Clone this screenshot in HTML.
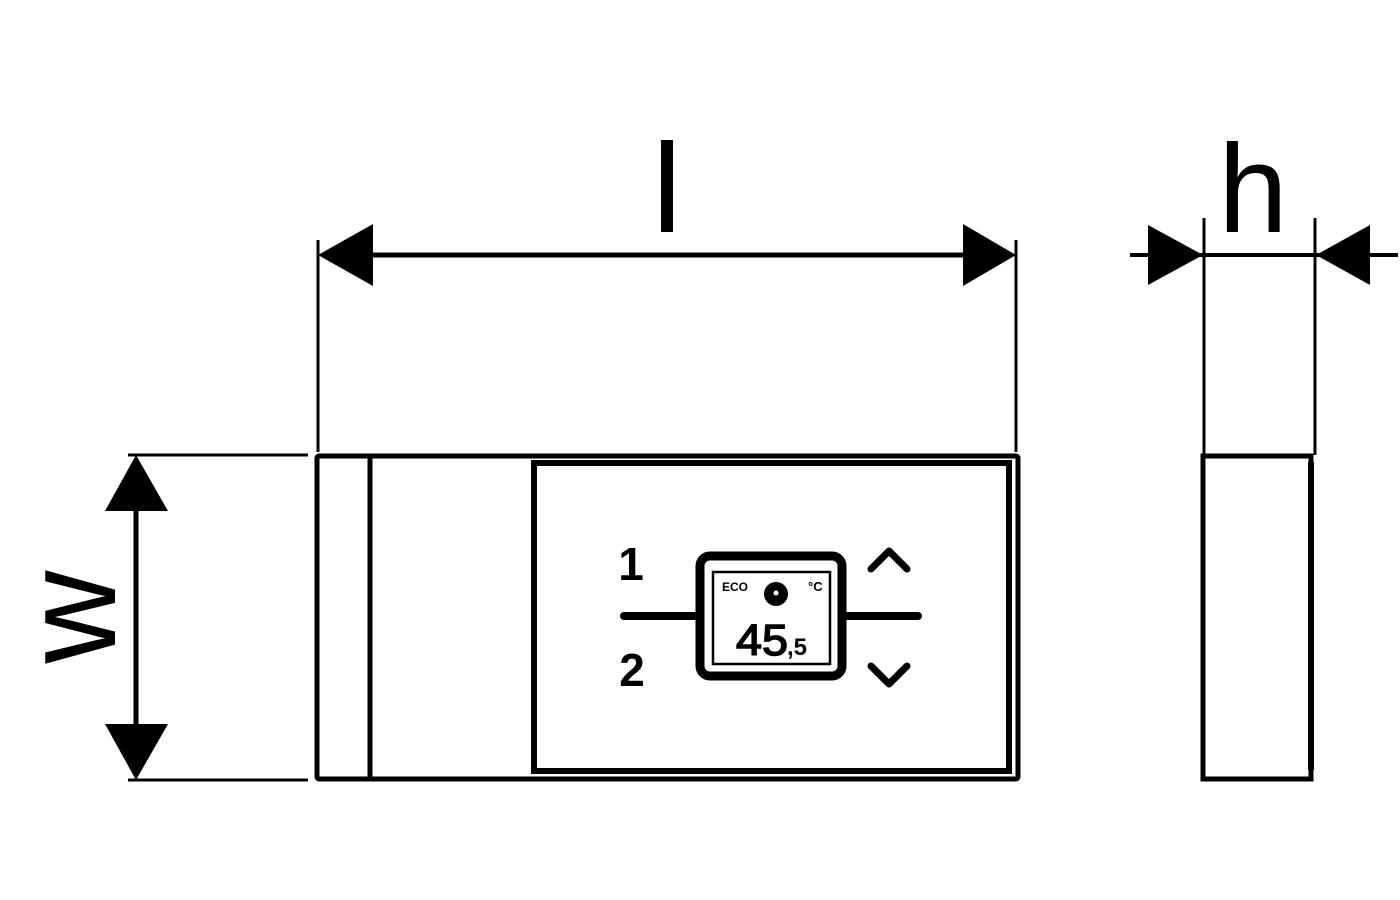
<!DOCTYPE html>
<html><head><style>html,body{margin:0;padding:0;background:#fff;}svg{display:block}</style></head>
<body>
<svg width="1400" height="900" viewBox="0 0 1400 900" xmlns="http://www.w3.org/2000/svg">
<rect width="1400" height="900" fill="#fff"/>
<g stroke="#000" fill="none">
<line x1="318" y1="240" x2="318" y2="452" stroke-width="3"/>
<line x1="1016" y1="240" x2="1016" y2="452" stroke-width="3"/>
<line x1="360" y1="255" x2="975" y2="255" stroke-width="5"/>
<line x1="128" y1="455" x2="308" y2="455" stroke-width="3"/>
<line x1="128" y1="780" x2="308" y2="780" stroke-width="3"/>
<line x1="136" y1="500" x2="136" y2="735" stroke-width="5"/>
<line x1="1204" y1="218" x2="1204" y2="455" stroke-width="3"/>
<line x1="1315" y1="218" x2="1315" y2="455" stroke-width="3"/>
<line x1="1130" y1="255" x2="1398" y2="255" stroke-width="4"/>
<rect x="317" y="456" width="701" height="323" stroke-width="5" rx="2"/>
<line x1="370" y1="456" x2="370" y2="779" stroke-width="5"/>
<rect x="534" y="463" width="475" height="308" stroke-width="6"/>
<rect x="1203" y="456" width="108" height="323" stroke-width="5"/>
<line x1="1311" y1="462" x2="1311" y2="770" stroke-width="6"/>
<rect x="700" y="556" width="142" height="120" rx="10" stroke-width="9"/>
<rect x="713" y="572" width="117" height="92" stroke-width="2.5"/>
<line x1="624" y1="616" x2="700" y2="616" stroke-width="8" stroke-linecap="round"/>
<line x1="842" y1="616" x2="918" y2="616" stroke-width="8" stroke-linecap="round"/>
<polyline points="871,569 889,551 907,569" stroke-width="7" stroke-linecap="round" stroke-linejoin="round"/>
<polyline points="871,666 889,684 907,666" stroke-width="7" stroke-linecap="round" stroke-linejoin="round"/>
</g>
<g fill="#000">
<polygon points="318,255 373,224 373,286"/>
<polygon points="1016,255 963,224 963,286"/>
<polygon points="136,455 105,511 168,511"/>
<polygon points="136,780 105,724 168,724"/>
<polygon points="1203,255 1148,225 1148,285"/>
<polygon points="1316,255 1370,225 1370,285"/>
<rect x="661" y="140" width="12" height="92"/>
<circle cx="776" cy="594" r="12"/>
<circle cx="776" cy="593" r="2.5" fill="#fff"/>
</g>
<g font-family="Liberation Sans, sans-serif" fill="#000">
<text x="1253" y="232" font-size="125" text-anchor="middle">h</text>
<text transform="translate(115,617) rotate(-90)" font-size="132" text-anchor="middle" textLength="93" lengthAdjust="spacingAndGlyphs">w</text>
<text x="631" y="580" font-size="46" font-weight="bold" text-anchor="middle">1</text>
<text x="632" y="686" font-size="46" font-weight="bold" text-anchor="middle">2</text>
<text x="722" y="591" font-size="12" font-weight="bold" textLength="26" lengthAdjust="spacingAndGlyphs">ECO</text>
<text x="808" y="591" font-size="13" font-weight="bold">°C</text>
<text x="736" y="655" font-size="44" stroke="#000" stroke-width="1.5" textLength="52" lengthAdjust="spacingAndGlyphs">45</text>
<text x="787" y="655" font-size="24" font-weight="bold">,5</text>
</g>
</svg>
</body></html>
